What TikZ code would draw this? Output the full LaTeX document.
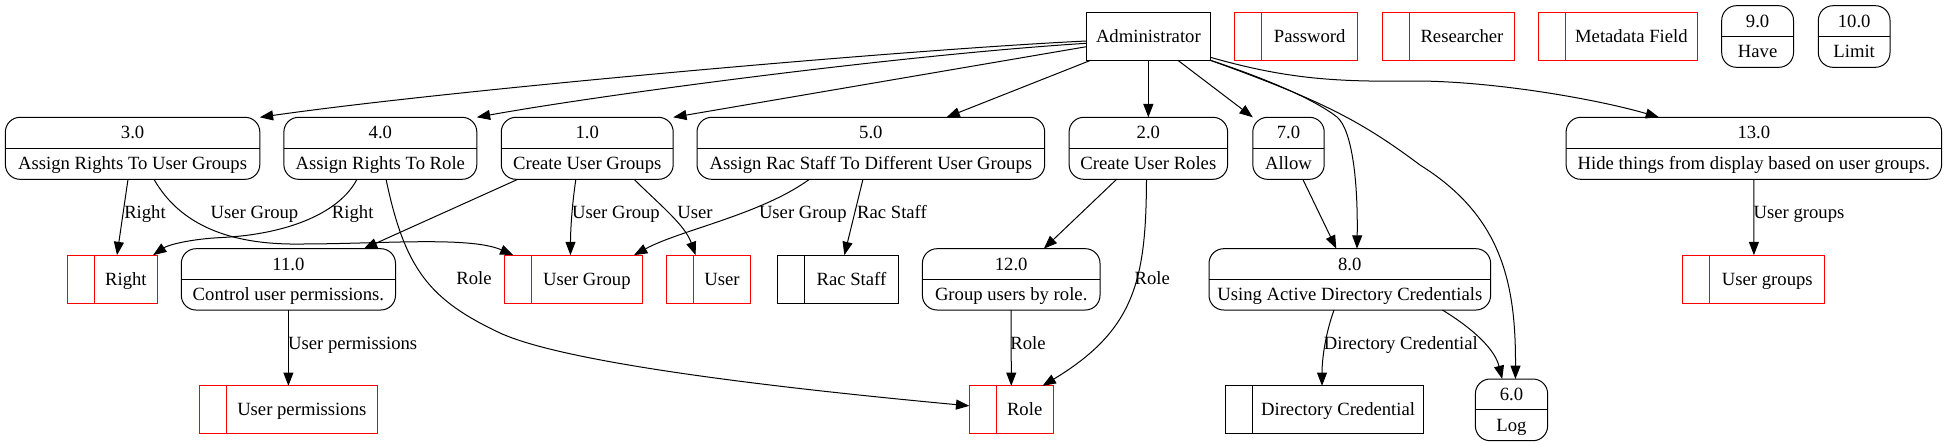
\documentclass[tikz,border=0pt]{standalone}
\usepackage{fontspec}
\setmainfont{Liberation Serif}
\usetikzlibrary{arrows.meta,calc}
\newcommand{\procbox}[7]{%
  \node[procshape, minimum width={#4*0.75pt}, minimum height={#5*0.75pt}] (#1) at (#2,#3) {};
  \draw[line width=0.75pt] (#1.west) -- (#1.east);
  \node[txt] (#1t) at (#2,{#3-#5/4+6}) {#6};
  \node[txt] (#1b) at (#2,{#3+#5/4+6}) {#7};
}
\newcommand{\storebox}[7]{%
  \node[storeshape, draw=#7, minimum width={(#3-#2)*0.75pt}, minimum height={#5*0.75pt}] (#1) at ({(#2+#3)/2},#4) {};
  \draw[line width=0.75pt, #7] ([xshift=20.1pt]#1.north west) -- ([xshift=20.1pt]#1.south west);
  \node[txt] (#1t) at ({(#2+26.8+#3)/2},{#4+6}) {#6};
}
\begin{document}
\begin{tikzpicture}[x=0.75pt,y=-0.75pt,
  every node/.style={font=\fontsize{14pt}{16.8pt}\selectfont, inner sep=0pt, outer sep=0pt},
  procshape/.style={draw, line width=0.75pt, rounded corners=11pt, rectangle},
  storeshape/.style={draw, line width=0.75pt, rectangle},
  extshape/.style={draw, line width=0.75pt, rectangle},
  txt/.style={anchor=base},
  flow/.style={draw, line width=0.75pt, -{Triangle[length=10pt,width=7.5pt]}},
  lbl/.style={anchor=base}]
\useasboundingbox (0,0) rectangle (1947,447);

% top row
\node[extshape, minimum width={124.1*0.75pt}, minimum height={48*0.75pt}] (admin) at (1148.35,36.3) {};
\node[txt] (admint) at (1148.35,42.3) {Administrator};
\storebox{password}{1234.9}{1357.7}{36.3}{48}{Password}{red}
\storebox{researcher}{1382.5}{1514.6}{36.3}{48}{Researcher}{red}
\storebox{metadata}{1538.5}{1697.4}{36.3}{48}{Metadata Field}{red}
\procbox{pnine}{1757.6}{36.5}{71.8}{61.6}{9.0}{Have}
\procbox{pten}{1854.15}{36.5}{71.7}{61.6}{10.0}{Limit}

% second row
\procbox{pthree}{132.6}{148.3}{254.4}{62}{3.0}{Assign Rights To User Groups}
\procbox{pfour}{380.35}{148.3}{192.9}{62}{4.0}{Assign Rights To Role}
\procbox{pone}{587.25}{148.3}{171.9}{62}{1.0}{Create User Groups}
\procbox{pfive}{870.85}{148.3}{347.7}{62}{5.0}{Assign Rac Staff To Different User Groups}
\procbox{ptwo}{1148.35}{148.3}{158.5}{62}{2.0}{Create User Roles}
\procbox{pseven}{1288.5}{148.3}{71.4}{62}{7.0}{Allow}
\procbox{pthirteen}{1753.85}{148.3}{375.5}{62}{13.0}{Hide things from display based on user groups.}

% third row
\storebox{rightstore}{67.9}{157.1}{279.15}{48}{Right}{red}
\procbox{peleven}{288.4}{279.35}{214.2}{61.3}{11.0}{Control user permissions.}
\storebox{usergroup}{504.9}{642}{279.15}{48}{User Group}{red}
\storebox{user}{666.5}{750.5}{279.15}{48}{User}{red}
\storebox{racstaff}{777.8}{898.3}{279.15}{48}{Rac Staff}{black}
\procbox{ptwelve}{1011.2}{279.35}{177.6}{61.3}{12.0}{Group users by role.}
\procbox{peight}{1349.8}{279.35}{281.6}{61.3}{8.0}{Using Active Directory Credentials}
\storebox{usergroups}{1682.9}{1824.9}{279.15}{48}{User groups}{red}

% fourth row
\storebox{userperm}{199.6}{377.2}{409.85}{48}{User permissions}{red}
\storebox{role}{969.3}{1053.2}{409.85}{48}{Role}{red}
\storebox{dircred}{1225.5}{1423.8}{409.85}{48}{Directory Credential}{black}
\procbox{plog}{1511.5}{409.85}{72.2}{61.7}{6.0}{Log}

% edges from Administrator
\draw[flow] ($(admin.west)+(0,4.7)$) .. controls (900,50) and (450,90) .. (pthree.north east);
\draw[flow] ($(admin.west)+(0,7)$) .. controls (900,55) and (600,95) .. (pfour.north east);
\draw[flow] ($(admin.west)+(0,10.4)$) -- (pone.north east);
\draw[flow] ($(admin.south west)+(4.4,0)$) -- ($(pfive.north)+(75.65,0)$);
\draw[flow] (admin.south) -- (ptwo.north);
\draw[flow] ($(admin.south)+(29.5,0)$) -- (pseven.north west);
\draw[flow] ($(admin.south east)+(0,-3)$) .. controls (1290,80) and (1340,82) .. (1420,81) .. controls (1500,82) and (1600,100) .. ($(pthirteen.north)+(-94.85,0)$);
\draw[flow] (admin.south east) .. controls (1270,80) and (1315,100) .. (1337,117) .. controls (1352,130) and (1358,180) .. ($(peight.north)+(7.2,0)$);
\draw[flow] (admin.south east) .. controls (1320,100) and (1360,120) .. (1420,165) .. controls (1500,215) and (1516,280) .. ($(plog.north)+(3.9,0)$);

% 3.0
\draw[flow] ($(pthree.south)+(-4.6,0)$) -- ($(rightstore.north)+(4.5,0)$);
\node[lbl] (l1) at (145,218.5) {Right};
\draw[flow] ($(pthree.south)+(21.4,0)$) .. controls (180,225) and (230,245) .. (300,244) .. controls (380,244) and (470,236) .. ($(usergroup.north west)+(8.5,0)$);
\node[lbl] (l2) at (254.5,218.5) {User Group};

% 4.0
\draw[flow] ($(pfour.south)+(-23.4,0)$) .. controls (340,212) and (290,234) .. (222,237.5) .. controls (190,239) and (168,245) .. ($(rightstore.north east)+(-4,0)$);
\node[lbl] (l3) at (352.7,218.5) {Right};
\draw[flow] ($(pfour.south)+(5.7,0)$) .. controls (405,270) and (430,300) .. (500,333) .. controls (570,365) and (800,390) .. ($(role.west)+(0,-4)$);
\node[lbl] (l4) at (474,284) {Role};

% 1.0
\draw[flow] ($(pone.south)+(-69.4,0)$) -- ($(peleven.north)+(75.4,0)$);
\draw[flow] ($(pone.south)+(-11.4,0)$) .. controls (572,205) and (570.5,230) .. ($(usergroup.north)+(-3,0)$);
\node[lbl] (l5) at (616,218.5) {User Group};
\draw[flow] ($(pone.south)+(46.8,0)$) .. controls (660,205) and (685,225) .. ($(user.north)+(-12.9,0)$);
\node[lbl] (l6) at (695,218.5) {User};

% 5.0
\draw[flow] ($(pfive.south)+(-61.4,0)$) .. controls (760,215) and (680,230) .. ($(usergroup.north east)+(-8,0)$);
\node[lbl] (l7) at (802.8,218.5) {User Group};
\draw[flow] ($(pfive.south)+(-7.9,0)$) -- ($(racstaff.north)+(6.3,0)$);
\node[lbl] (l8) at (892,218.5) {Rac Staff};

% 2.0
\draw[flow] ($(ptwo.south)+(-31.75,0)$) -- ($(ptwelve.north)+(32.6,0)$);
\draw[flow] ($(ptwo.south)+(-1.85,0)$) .. controls (1146,280) and (1135,330) .. ($(role.north)+(31.3,0)$);
\node[lbl] (l9) at (1152.3,284) {Role};

% 12.0
\draw[flow] (ptwelve.south) -- (role.north);
\node[lbl] (l10) at (1028,349) {Role};

% 7.0
\draw[flow] ($(pseven.south)+(14.3,0)$) -- ($(peight.north)+(-13.5,0)$);

% 8.0
\draw[flow] ($(peight.south)+(-15.8,0)$) .. controls (1325,335) and (1322,360) .. ($(dircred.north)+(-2.65,0)$);
\node[lbl] (l11) at (1400.8,349) {Directory Credential};
\draw[flow] ($(peight.south)+(92.6,0)$) .. controls (1475,330) and (1495,350) .. ($(plog.north)+(-9.3,0)$);

% 11.0
\draw[flow] (peleven.south) -- (userperm.north);
\node[lbl] (l12) at (352.7,349) {User permissions};

% 13.0
\draw[flow] (pthirteen.south) -- (usergroups.north);
\node[lbl] (l13) at (1799,218.5) {User groups};
\end{tikzpicture}
\end{document}
